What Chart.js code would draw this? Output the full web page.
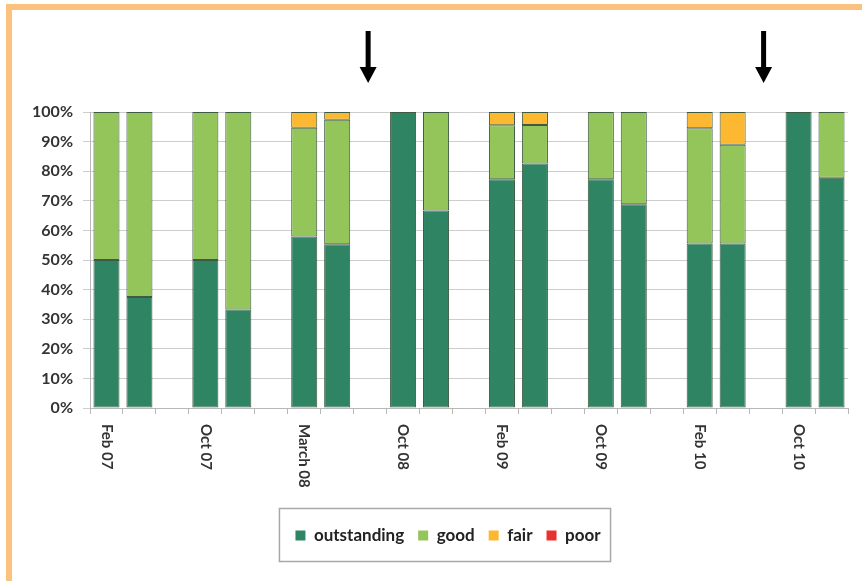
<!DOCTYPE html>
<html>
<head>
<meta charset="utf-8">
<script src="https://cdn.jsdelivr.net/npm/chart.js@4"></script>
<style>
  html, body { margin: 0; padding: 0; background: #fff; }
  canvas { display: block; }
</style>
</head>
<body>
<canvas id="chart" width="862" height="581"></canvas>
<script>
// Inspection rounds: two bars per round, an empty slot between rounds.
const categories = ['Feb 07', '', '', 'Oct 07', '', '', 'March 08', '', '', 'Oct 08', '', '',
                    'Feb 09', '', '', 'Oct 09', '', '', 'Feb 10', '', '', 'Oct 10', ''];

// Share of grades, in percent (null = empty slot).
const outstanding = [50, 37.5, null, 50, 33.3, null, 57.9, 55.3, null, 100, 66.7, null,
                     77.3, 82.6, null, 77.3, 68.8, null, 55.6, 55.6, null, 100, 77.8];
const good        = [50, 62.5, null, 50, 66.7, null, 36.8, 42.1, null, 0, 33.3, null,
                     18.2, 13.0, null, 22.7, 31.2, null, 38.9, 33.3, null, 0, 22.2];
const fair        = [0, 0, null, 0, 0, null, 5.3, 2.6, null, 0, 0, null,
                     4.5, 4.4, null, 0, 0, null, 5.5, 11.1, null, 0, 0];
const poor        = [0, 0, null, 0, 0, null, 0, 0, null, 0, 0, null,
                     0, 0, null, 0, 0, null, 0, 0, null, 0, 0];

const yTicks = [0, 10, 20, 30, 40, 50, 60, 70, 80, 90, 100];

// Empty slots marked with a downward arrow above the plot.
const arrowSlots = [8, 20];

const FONT = "Lato, 'Open Sans', sans-serif";
const TEXT = '#333333';

const nz = arr => arr.map(v => (v ? v : null));

const series = [
  { label: 'outstanding', data: nz(outstanding), color: '#2f8464' },
  { label: 'good',        data: nz(good),        color: '#94c55b' },
  { label: 'fair',        data: nz(fair),        color: '#fbb830' },
  { label: 'poor',        data: nz(poor),        color: '#e8322d' }
];

const framePlugin = {
  id: 'frame',
  beforeDraw(chart) {
    const ctx = chart.ctx;
    ctx.save();
    ctx.fillStyle = '#ffffff';
    ctx.fillRect(0, 0, chart.width, chart.height);
    ctx.strokeStyle = '#fbc27d';
    ctx.lineWidth = 6;
    ctx.strokeRect(9, 7, chart.width + 20, chart.height);
    ctx.restore();
  }
};

// Category names, written top-to-bottom under the first bar of each round.
const xLabelPlugin = {
  id: 'xLabels',
  afterDraw(chart) {
    const xs = chart.scales.x;
    const ctx = chart.ctx;
    ctx.save();
    ctx.fillStyle = TEXT;
    ctx.font = 'bold 15px ' + FONT;
    ctx.textAlign = 'left';
    ctx.textBaseline = 'middle';
    categories.forEach((lab, i) => {
      if (!lab) return;
      const x = xs.getPixelForTick(i);
      ctx.save();
      ctx.translate(x, chart.chartArea.bottom + 16);
      ctx.rotate(Math.PI / 2);
      ctx.fillText(lab, 0, 0);
      ctx.restore();
    });
    ctx.restore();
  }
};

// Percentage labels beside the value axis.
const yLabelPlugin = {
  id: 'yLabels',
  afterDraw(chart) {
    const ys = chart.scales.y;
    const ctx = chart.ctx;
    ctx.save();
    ctx.fillStyle = TEXT;
    ctx.font = 'bold 16px ' + FONT;
    ctx.textAlign = 'right';
    ctx.textBaseline = 'middle';
    yTicks.forEach(v => {
      ctx.fillText(v + '%', chart.chartArea.left - 17, ys.getPixelForValue(v));
    });
    ctx.restore();
  }
};

const arrowPlugin = {
  id: 'arrows',
  afterDraw(chart) {
    const xs = chart.scales.x;
    const ctx = chart.ctx;
    const tip = chart.chartArea.top - 29;
    ctx.save();
    ctx.fillStyle = '#000000';
    arrowSlots.forEach(i => {
      const x = xs.getPixelForTick(i) - 2;
      ctx.fillRect(x - 2.5, tip - 52, 5, 38);
      ctx.beginPath();
      ctx.moveTo(x - 8.5, tip - 16);
      ctx.lineTo(x + 8.5, tip - 16);
      ctx.lineTo(x, tip);
      ctx.closePath();
      ctx.fill();
    });
    ctx.restore();
  }
};

const legendBoxPlugin = {
  id: 'legendBox',
  afterDraw(chart) {
    const hb = chart.legend.legendHitBoxes;
    if (!hb || !hb.length) return;
    const left = Math.min(...hb.map(h => h.left));
    const right = Math.max(...hb.map(h => h.left + h.width));
    const cy = hb[0].top + hb[0].height / 2;
    const ctx = chart.ctx;
    ctx.save();
    ctx.strokeStyle = '#a8a8a8';
    ctx.lineWidth = 1.5;
    ctx.strokeRect(left - 16, cy - 27, right - left + 26, 53);
    ctx.restore();
  }
};

new Chart(document.getElementById('chart'), {
  type: 'bar',
  data: {
    labels: categories,
    datasets: series.map(s => ({
      label: s.label,
      data: s.data,
      backgroundColor: s.color,
      borderColor: '#3f5a42',
      borderWidth: 1,
      borderSkipped: false,
      barPercentage: 0.79,
      categoryPercentage: 1.0
    }))
  },
  options: {
    responsive: false,
    animation: false,
    devicePixelRatio: 1,
    layout: { padding: { left: 48, right: 14, top: 112, bottom: 27 } },
    scales: {
      x: {
        stacked: true,
        grid: { offset: true, drawOnChartArea: false, drawTicks: true, tickLength: 6, color: '#b8b8b8' },
        border: { color: '#b8b8b8' },
        ticks: { display: false },
        afterFit(scale) { scale.height = 105; }
      },
      y: {
        stacked: true,
        min: 0,
        max: 100,
        afterBuildTicks(scale) { scale.ticks = yTicks.map(v => ({ value: v })); },
        ticks: { display: false },
        grid: { color: '#cdcdcd', tickLength: 7 },
        border: { color: '#b8b8b8' },
        afterFit(scale) { scale.width = 42; }
      }
    },
    plugins: {
      legend: {
        position: 'bottom',
        labels: {
          boxWidth: 10,
          boxHeight: 10,
          padding: 14,
          color: '#222222',
          font: { family: FONT, weight: 'bold', size: 17 },
          generateLabels(chart) {
            return chart.data.datasets.map((d, i) => ({
              text: d.label,
              fillStyle: d.backgroundColor,
              strokeStyle: d.backgroundColor,
              lineWidth: 0,
              fontColor: '#222222',
              hidden: false,
              datasetIndex: i
            }));
          }
        }
      },
      tooltip: { enabled: false }
    }
  },
  plugins: [framePlugin, xLabelPlugin, yLabelPlugin, arrowPlugin, legendBoxPlugin]
});
</script>
</body>
</html>
